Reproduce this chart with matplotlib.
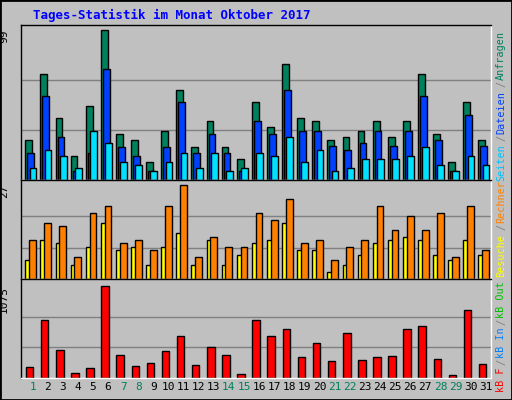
import matplotlib
matplotlib.use("Agg")
import matplotlib.pyplot as plt

days = list(range(1, 32))
weekend = [1, 7, 8, 14, 15, 21, 22, 28, 29]
hits = [26,70,40.5,16,48.6,99,30,26,12,32,59,22,38.5,22,14,51,35,76,41,38.5,26,28,32.5,39,28,39,70,30,12,51,26]
files = [18,55,28,6,18,73,22,16,6,22,51,18,30,18,6,39,30,59,32.5,32.5,22.5,20,24.5,32.5,22.5,32,55,26,6,42.5,22.5]
pages = [7.6,20,15.7,7.6,32.5,24.5,12,10,5.6,12,18,7.6,18,5.6,7.6,18,16,28,12,20,6,7.6,14,14,13.7,16,22,10,6,16,10]
sites = [11.2,16,15.3,6.2,19,21,10.3,11.2,8.2,21,27,6.2,12,9.1,9.1,19,17,23,10.3,11.2,5.3,9.1,11.2,21,14,18,14,19,6.2,21,8.2]
visits = [5.3,11.2,10.3,4.1,9.1,16,8.2,9.1,4.1,9.1,13.2,4.1,11.2,4.1,7,10.3,11.2,16,8.2,8.2,2,4.1,7,10.3,11.2,12,11.2,7,5.3,11.2,7]
kbytes = [133,675,333,63,122,1075,275,145,180,322,487,157,369,275,51,675,498,569,251,416,204,522,216,251,263,569,604,228,39,793,169]

W, H = 512, 400
fig = plt.figure(figsize=(W/100, H/100), dpi=100, facecolor='#c0c0c0')
mono = 'DejaVu Sans Mono'
fig.patches.append(plt.Rectangle((0, 0), 1, 1, transform=fig.transFigure, fill=False, ec='black', lw=2))

def mk(y0, y1):
    ax = fig.add_axes([20.5/W, 1 - y1/H, (491-20.5)/W, (y1-y0)/H])
    ax.set_facecolor('#c0c0c0')
    ax.set_xlim(0.8, 31.95)
    ax.set_xticks([])
    ax.set_yticks([])
    for s in ax.spines.values():
        s.set_color('black'); s.set_linewidth(1)
    ax.spines['right'].set_color('white'); ax.spines['bottom'].set_color('white')
    return ax

ek = dict(edgecolor='black', linewidth=1, align='edge')

ax1 = mk(25, 180)
mx = max(hits)
ax1.set_ylim(0, mx*1.03)
for g in (mx/3, 2*mx/3):
    ax1.axhline(g, color='#808080', lw=1, zorder=0)
ax1.bar([d + 0.12 for d in days], hits, width=0.45, color='#00805c', **ek)
ax1.bar([d + 0.25 for d in days], files, width=0.45, color='#0040ff', **ek)
ax1.bar([d + 0.4 for d in days], pages, width=0.45, color='#00e0ff', **ek)
ax1.text(-0.035, mx, '99', transform=ax1.get_yaxis_transform(), rotation=90, ha='center', va='top', fontsize=8, family=mono)

ax2 = mk(180, 279)
mx = max(sites)
ax2.set_ylim(0, mx*1.05)
for g in (mx/3, 2*mx/3):
    ax2.axhline(g, color='#808080', lw=1, zorder=0)
ax2.bar([d + 0.12 for d in days], visits, width=0.45, color='#ffff00', **ek)
ax2.bar([d + 0.37 for d in days], sites, width=0.45, color='#ff8000', **ek)
ax2.text(-0.035, mx, '27', transform=ax2.get_yaxis_transform(), rotation=90, ha='center', va='top', fontsize=8, family=mono)

ax3 = mk(279, 378)
mx = max(kbytes)
ax3.set_ylim(0, mx*1.08)
for g in (mx/3, 2*mx/3):
    ax3.axhline(g, color='#808080', lw=1, zorder=0)
ax3.bar([d + 0.15 for d in days], kbytes, width=0.5, color='#ff0000', **ek)
ax3.text(-0.035, mx, '1075', transform=ax3.get_yaxis_transform(), rotation=90, ha='center', va='top', fontsize=8, family=mono)
for d in days:
    ax3.text(d + 0.6, -0.04, str(d), transform=ax3.get_xaxis_transform(), ha='center', va='top',
             fontsize=8, family=mono, color='#00805c' if d in weekend else 'black')

fig.text(33/W, 1 - 15/H, 'Tages-Statistik im Monat Oktober 2017', color='#0000ff', fontsize=9,
         family=mono, weight='bold', va='center')

def vlabel(parts, ybottom):
    y = ybottom
    for t, c in parts:
        fig.text(501/W, 1 - y/H, t, rotation=90, color=c, fontsize=7.3, family=mono, ha='center', va='bottom')
        y -= len(t) * 6.7
vlabel([('Seiten', '#00c0ff'), ('/', '#808080'), ('Dateien', '#0040ff'), ('/', '#808080'), ('Anfragen', '#00805c')], 181)
vlabel([('Besuche', '#ffff00'), ('/', '#808080'), ('Rechner', '#ff8000')], 277)
vlabel([('kB F', '#ff0000'), ('/', '#808080'), ('kB In', '#0080ff'), ('/', '#808080'), ('kB Out', '#00c000')], 392)

fig.savefig('out.png', dpi=100, facecolor=fig.get_facecolor())
